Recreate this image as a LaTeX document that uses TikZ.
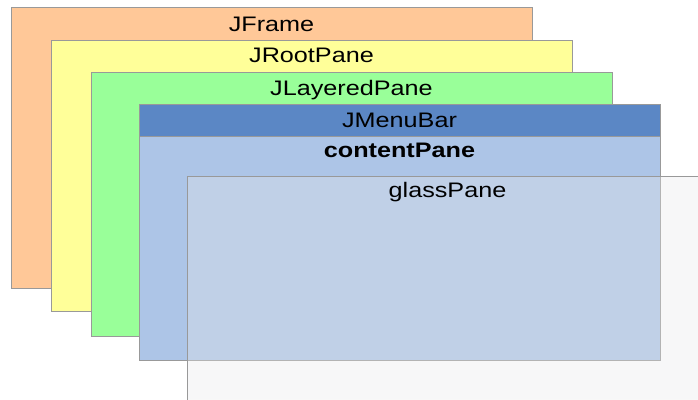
\documentclass[tikz,border=0pt]{standalone}
\usepackage{fontspec}
\setmainfont[FakeStretch=1.2]{Liberation Sans}
\definecolor{cframe}{HTML}{FFC898}
\definecolor{croot}{HTML}{FFFF99}
\definecolor{clayer}{HTML}{99FF99}
\definecolor{cmenu}{HTML}{5B87C5}
\definecolor{ccontent}{HTML}{ADC5E7}
\definecolor{cglass}{HTML}{E9E9EA}
\definecolor{cborder}{HTML}{999999}
\tikzset{
  pane/.style={draw=cborder, line width=1pt},
  lbl/.style={anchor=base, inner sep=0pt, font=\fontsize{21}{25}\selectfont, text=black},
}
\begin{document}
\begin{tikzpicture}[x=1pt,y=-1pt]
\useasboundingbox (0,0) rectangle (698,399);
\fill[white] (0,0) rectangle (698,399);
\draw[pane, fill=cframe] (11,7) rectangle (532,288);
\node[lbl] (jframe) at (271.5,31) {JFrame};
\draw[pane, fill=croot] (51,40) rectangle (572,311);
\node[lbl] (jroot) at (311.5,62) {JRootPane};
\draw[pane, fill=clayer] (91,72) rectangle (612,336);
\node[lbl] (jlayer) at (351.5,95) {JLayeredPane};
\draw[pane, fill=ccontent] (139,136) rectangle (660,360);
\draw[pane, fill=cmenu] (139,104) rectangle (660,136);
\node[lbl] (jmenu) at (399.5,127) {JMenuBar};
\node[lbl, font=\fontsize{21}{25}\selectfont\bfseries] (content) at (399.5,157.5) {contentPane};
\fill[cglass, fill opacity=0.33] (187,176) rectangle (708,410);
\draw[cborder, line width=1pt] (187,410) -- (187,176) -- (708,176);
\node[lbl] (glass) at (447.5,197.5) {glassPane};
\end{tikzpicture}
\end{document}
